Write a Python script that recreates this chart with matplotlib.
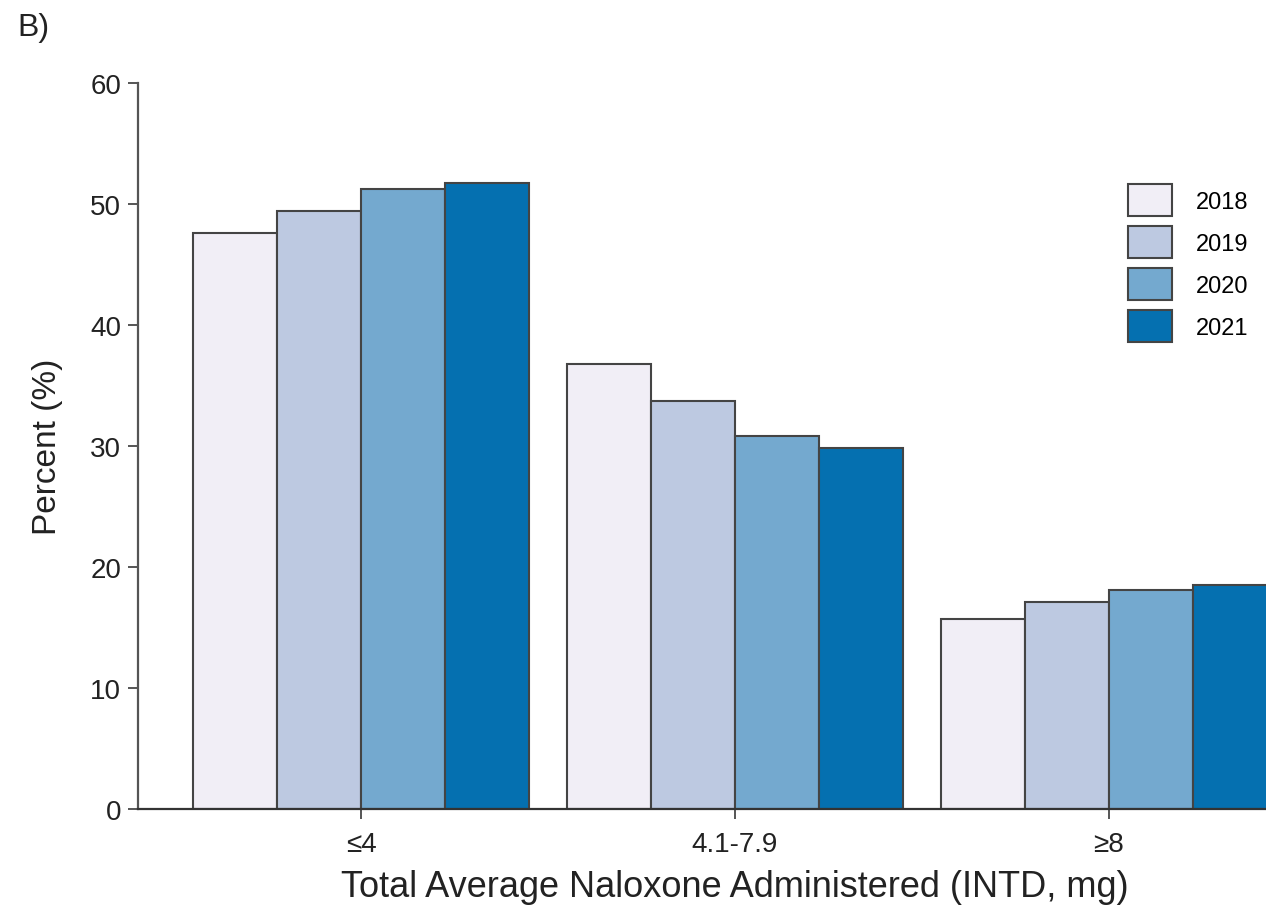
import numpy as np
import matplotlib
matplotlib.use("Agg")
import matplotlib.pyplot as plt

plt.rcParams['font.family'] = ['Liberation Sans', 'DejaVu Sans']

# data
dose_groups = ['\u22644', '4.1-7.9', '\u22658']
years = ['2018', '2019', '2020', '2021']
pct_2018 = [47.6, 36.8, 15.7]
pct_2019 = [49.4, 33.7, 17.1]
pct_2020 = [51.2, 30.8, 18.1]
pct_2021 = [51.7, 29.8, 18.5]
year_colors = ['#f1eef6', '#bdc9e1', '#74a9cf', '#0570b0']

series = [pct_2018, pct_2019, pct_2020, pct_2021]
edge = '#444444'
axis_col = '#555555'

fig = plt.figure(figsize=(12.66, 9.12), dpi=100)
ax = fig.add_axes([0.1090, 0.1118, 0.891, 0.7961])

x = np.arange(len(dose_groups))
w = 0.2246
for i, (vals, col, yr) in enumerate(zip(series, year_colors, years)):
    ax.bar(x + (i - 1.5) * w, vals, w, color=col, edgecolor=edge,
           linewidth=1.5, label=yr, zorder=2)

ax.set_xlim(-0.5963, 2.4198)
ax.set_ylim(0, 60)
ax.set_yticks(np.arange(0, 61, 10))
ax.set_xticks(x)
ax.set_xticklabels(dose_groups)

for s in ['top', 'right']:
    ax.spines[s].set_visible(False)
ax.spines['left'].set_color(axis_col)
ax.spines['bottom'].set_color('#333333')
ax.spines['left'].set_linewidth(1.6)
ax.spines['bottom'].set_linewidth(1.6)
ax.tick_params(axis='both', colors=axis_col, length=7, width=1.4,
               labelsize=20, labelcolor='#222222')
ax.tick_params(axis='y', pad=5)
ax.tick_params(axis='x', pad=9)

ax.set_ylabel('Percent (%)', fontsize=24, color='#222222', labelpad=20)
ax.set_xlabel('Total Average Naloxone Administered (INTD, mg)', fontsize=26,
              color='#222222')
# the original axis was cropped on the right, so the label sits over the middle group
ax.xaxis.set_label_coords((735 - 138) / 1128, -0.083)

ax.legend(loc='upper left', bbox_to_anchor=(1128 / 1266, 1 - 185 / 912),
          bbox_transform=fig.transFigure, frameon=False, fontsize=17,
          handlelength=1.86, handleheight=1.71, labelspacing=0.42,
          handletextpad=1.0, borderpad=0, borderaxespad=0)

fig.text(17 / 1266, 1 - 13 / 912, 'B)', fontsize=23, color='#222222',
         ha='left', va='top')

fig.savefig('out.png', dpi=100)
